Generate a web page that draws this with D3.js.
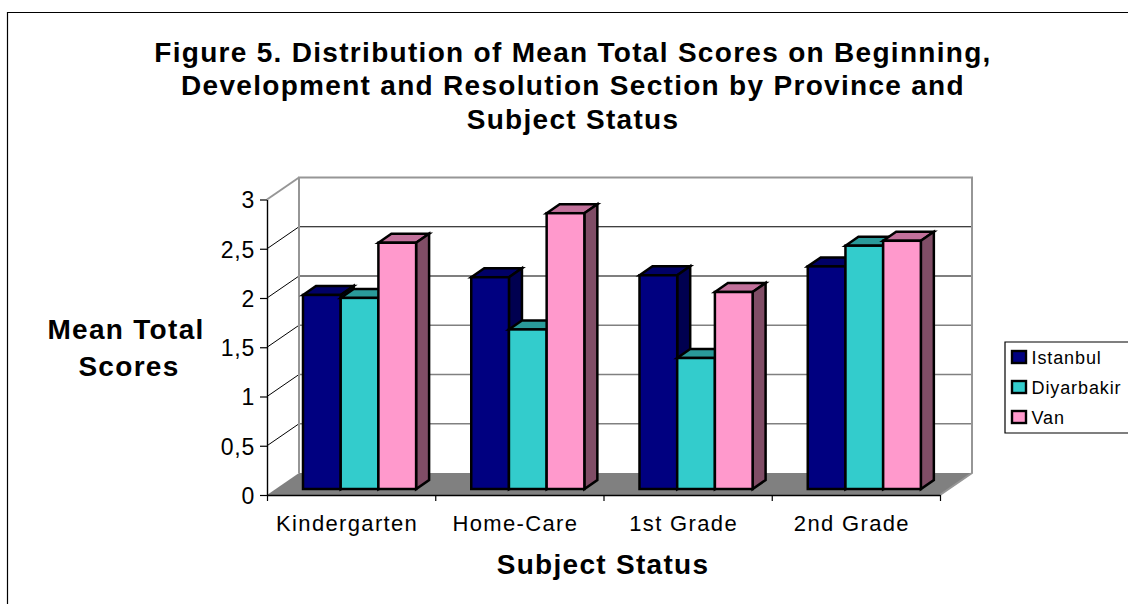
<!DOCTYPE html>
<html>
<head>
<meta charset="utf-8">
<script src="https://cdn.jsdelivr.net/npm/d3@7"></script>
<style>
html, body { margin: 0; padding: 0; background: #fff; overflow: hidden; }
svg { display: block; }
text { font-family: "Liberation Sans", Arial, sans-serif; fill: #000; }
.title { font-size: 28px; font-weight: bold; letter-spacing: 1.3px; text-anchor: middle; }
.axis-title { font-size: 28px; font-weight: bold; letter-spacing: 1.3px; text-anchor: middle; }
.tick text { font-size: 23px; letter-spacing: 0.8px; }
.cat-label { font-size: 22px; letter-spacing: 1.35px; text-anchor: middle; }
.legend-label { font-size: 18px; letter-spacing: 0.9px; }
</style>
</head>
<body>
<svg id="chart" width="1128" height="604"></svg>
<script>
var categories = ["Kindergarten", "Home-Care", "1st Grade", "2nd Grade"];
var seriesNames = ["Istanbul", "Diyarbakir", "Van"];
var istanbul = [1.97, 2.15, 2.17, 2.26];
var diyarbakir = [1.94, 1.62, 1.33, 2.47];
var van = [2.50, 2.80, 2.00, 2.52];
var seriesValues = [istanbul, diyarbakir, van];
var yTicks = [0, 0.5, 1, 1.5, 2, 2.5, 3];
var titleLines = [
    "Figure 5. Distribution of Mean Total Scores on Beginning,",
    "Development and Resolution Section by Province and",
    "Subject Status"
];
var frontColors = ["#000080", "#33cccc", "#ff99cc"];
var topColors = ["#000066", "#2a9a9a", "#c2719b"];
var sideColors = ["#000050", "#1f7a7a", "#804d66"];

var svg = d3.select("#chart");

// outer chart border, runs off the picture on the right and bottom
svg.append("path")
    .attr("d", d3.line()([[7.5, 604], [7.5, 12.5], [1128, 12.5]]))
    .attr("fill", "none")
    .attr("stroke", "#000")
    .attr("stroke-width", 1.2);

svg.selectAll("text.title")
    .data(titleLines)
    .enter()
    .append("text")
    .attr("class", "title")
    .attr("x", 573)
    .attr("y", (d, i) => [62, 95, 129][i])
    .text(d => d);

var xScale = d3.scaleBand()
    .domain(categories)
    .range([267, 940]);

var yScale = d3.scaleLinear()
    .domain([0, 3])
    .range([495, 199.5]);

// offset of the back wall from the front axes
var depth = [32, -22];
var barDepth = [13, -9];

var x0 = xScale.range()[0], x1 = xScale.range()[1];
var y0 = yScale(0), y3 = yScale(3);

// floor
svg.append("polygon")
    .attr("points", [[x0, y0], [x0 + depth[0], y0 + depth[1]], [x1 + depth[0], y0 + depth[1]], [x1, y0]].join(" "))
    .attr("fill", "#808080");

// gridlines: side wall diagonal then along the back wall
yTicks.slice(1).forEach((v, i) => {
    var y = yScale(v);
    var dark = v >= 2 ;
    svg.append("path")
        .attr("d", d3.line()([[x0, y], [x0 + depth[0], y + depth[1]]]))
        .attr("fill", "none")
        .attr("stroke", v == 3 ? "#969696" : "#000")
        .attr("stroke-width", v == 3 ? 2 : 1);
    if (v < 3)
        svg.append("line")
            .attr("x1", x0 + depth[0])
            .attr("x2", x1 + depth[0])
            .attr("y1", y + depth[1])
            .attr("y2", y + depth[1])
            .attr("stroke", dark ? "#000" : "#808080")
            .attr("stroke-width", dark ? 1.2 : 1.6);
});

// back wall frame
svg.append("path")
    .attr("d", d3.line()([
        [x0 + depth[0], y0 + depth[1]],
        [x0 + depth[0], y3 + depth[1]],
        [x1 + depth[0], y3 + depth[1]],
        [x1 + depth[0], y0 + depth[1]],
        [x1, y0]
    ]))
    .attr("fill", "none")
    .attr("stroke", "#969696")
    .attr("stroke-width", 2);

// bars
var barWidth = 37.7;
var barInset = 36;
var barShiftY = -6;

categories.forEach((cat, c) => {
    seriesValues.forEach((vals, s) => {
        var left = xScale(cat) + barInset + s * barWidth;
        var right = left + barWidth;
        var top = yScale(vals[c]) + barShiftY;
        var bottom = yScale(0) + barShiftY;
        var g = svg.append("g")
            .attr("stroke", "#000")
            .attr("stroke-width", 2.5)
            .attr("stroke-linejoin", "miter");
        g.append("polygon")
            .attr("points", [[left, top], [left + barDepth[0], top + barDepth[1]], [right + barDepth[0], top + barDepth[1]], [right, top]].join(" "))
            .attr("fill", topColors[s]);
        g.append("polygon")
            .attr("points", [[right, top], [right + barDepth[0], top + barDepth[1]], [right + barDepth[0], bottom + barDepth[1]], [right, bottom]].join(" "))
            .attr("fill", sideColors[s]);
        g.append("rect")
            .attr("x", left)
            .attr("y", top)
            .attr("width", barWidth)
            .attr("height", bottom - top)
            .attr("fill", frontColors[s]);
    });
});

// axes
var yAxis = svg.append("g")
    .attr("transform", "translate(" + x0 + ",0)")
    .call(d3.axisLeft(yScale)
        .tickValues(yTicks)
        .tickSize(7)
        .tickSizeOuter(0)
        .tickFormat(d => String(d).replace(".", ",")));
yAxis.selectAll("text").attr("dx", "-2").attr("dy", "0.36em");

var xAxis = svg.append("g")
    .attr("transform", "translate(0," + y0 + ")")
    .call(d3.axisBottom(d3.scaleLinear().domain([0, 4]).range([x0, x1]))
        .tickValues([0, 1, 2, 3, 4])
        .tickSize(6)
        .tickSizeOuter(0)
        .tickFormat(""));

svg.selectAll(".domain").attr("stroke", "#000").attr("stroke-width", 1.4);
svg.selectAll(".tick line").attr("stroke", "#000").attr("stroke-width", 1.2);

svg.selectAll("text.cat-label")
    .data(categories)
    .enter()
    .append("text")
    .attr("class", "cat-label")
    .attr("x", d => xScale(d) + xScale.bandwidth() / 2 - 4)
    .attr("y", 531)
    .text(d => d);

svg.append("text")
    .attr("class", "axis-title")
    .attr("x", 603)
    .attr("y", 574)
    .text("Subject Status");

svg.append("text")
    .attr("class", "axis-title")
    .attr("x", 126)
    .attr("y", 339)
    .text("Mean Total");
svg.append("text")
    .attr("class", "axis-title")
    .attr("x", 129)
    .attr("y", 376)
    .text("Scores");

// legend
svg.append("path")
    .attr("d", d3.line()([[1128, 342], [1005, 342], [1005, 433], [1128, 433]]))
    .attr("fill", "none")
    .attr("stroke", "#000")
    .attr("stroke-width", 1.2);

seriesNames.forEach((name, i) => {
    var cy = 357 + i * 30;
    svg.append("rect")
        .attr("x", 1012)
        .attr("y", cy - 6)
        .attr("width", 14)
        .attr("height", 12)
        .attr("fill", frontColors[i])
        .attr("stroke", "#000")
        .attr("stroke-width", 2.4);
    svg.append("text")
        .attr("class", "legend-label")
        .attr("x", 1031.5)
        .attr("y", cy + 6.5)
        .text(name);
});
</script>
</body>
</html>
